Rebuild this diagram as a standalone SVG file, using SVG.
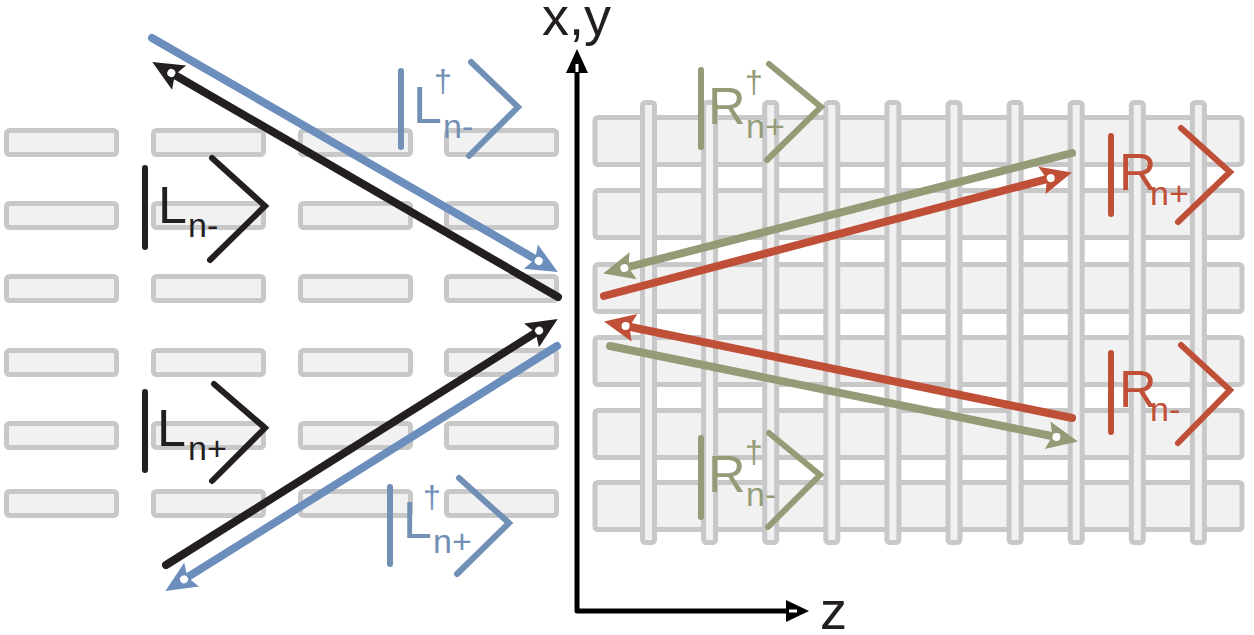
<svg xmlns="http://www.w3.org/2000/svg" width="1254" height="635" viewBox="0 0 1254 635">
<defs>
<style>
.brick{fill:#f1f1f1;stroke:#c8c8c9;stroke-width:5}
.bar{fill:#f1f1f1;stroke:#c8c8c9;stroke-width:5}
.ln{fill:none;stroke-width:8;stroke-linecap:round}
.ket{fill:none;stroke-width:6;stroke-linecap:round;stroke-linejoin:miter}
text{stroke:none;font-family:"Liberation Sans",Arial,sans-serif}
.big{font-size:52px}
.sub{font-size:34px}
.dag{font-size:32px}
.ax{font-size:54px;fill:#231f20}
.blue{stroke:#6b8ebd}
.black{stroke:#231f20}
.red{stroke:#c04f38}
.green{stroke:#939c77}
</style>
<marker id="mBlue" markerUnits="userSpaceOnUse" orient="auto" refX="0" refY="0" markerWidth="40" markerHeight="30" overflow="visible">
<path d="M22,0 L-9,-14 L-4,0 L-9,14 Z" fill="#6b8ebd"/><circle r="4" fill="#fff"/>
</marker>
<marker id="mBlack" markerUnits="userSpaceOnUse" orient="auto" refX="0" refY="0" markerWidth="40" markerHeight="30" overflow="visible">
<path d="M22,0 L-9,-14 L-4,0 L-9,14 Z" fill="#231f20"/><circle r="4" fill="#fff"/>
</marker>
<marker id="mRed" markerUnits="userSpaceOnUse" orient="auto" refX="0" refY="0" markerWidth="40" markerHeight="30" overflow="visible">
<path d="M22,0 L-9,-14 L-4,0 L-9,14 Z" fill="#c04f38"/><circle r="4" fill="#fff"/>
</marker>
<marker id="mGreen" markerUnits="userSpaceOnUse" orient="auto" refX="0" refY="0" markerWidth="40" markerHeight="30" overflow="visible">
<path d="M22,0 L-9,-14 L-4,0 L-9,14 Z" fill="#939c77"/><circle r="4" fill="#fff"/>
</marker>
</defs>
<rect width="1254" height="635" fill="#fff"/>

<g id="left-bricks">
<rect class="brick" x="6.5" y="130.5" width="110" height="24" rx="3"/>
<rect class="brick" x="153.5" y="130.5" width="110" height="24" rx="3"/>
<rect class="brick" x="300.5" y="130.5" width="110" height="24" rx="3"/>
<rect class="brick" x="446.5" y="130.5" width="110" height="24" rx="3"/>
<rect class="brick" x="6.5" y="203.5" width="110" height="24" rx="3"/>
<rect class="brick" x="153.5" y="203.5" width="110" height="24" rx="3"/>
<rect class="brick" x="300.5" y="203.5" width="110" height="24" rx="3"/>
<rect class="brick" x="446.5" y="203.5" width="110" height="24" rx="3"/>
<rect class="brick" x="6.5" y="276.5" width="110" height="24" rx="3"/>
<rect class="brick" x="153.5" y="276.5" width="110" height="24" rx="3"/>
<rect class="brick" x="300.5" y="276.5" width="110" height="24" rx="3"/>
<rect class="brick" x="446.5" y="276.5" width="110" height="24" rx="3"/>
<rect class="brick" x="6.5" y="350.5" width="110" height="24" rx="3"/>
<rect class="brick" x="153.5" y="350.5" width="110" height="24" rx="3"/>
<rect class="brick" x="300.5" y="350.5" width="110" height="24" rx="3"/>
<rect class="brick" x="446.5" y="350.5" width="110" height="24" rx="3"/>
<rect class="brick" x="6.5" y="423.5" width="110" height="24" rx="3"/>
<rect class="brick" x="153.5" y="423.5" width="110" height="24" rx="3"/>
<rect class="brick" x="300.5" y="423.5" width="110" height="24" rx="3"/>
<rect class="brick" x="446.5" y="423.5" width="110" height="24" rx="3"/>
<rect class="brick" x="6.5" y="491.5" width="110" height="24" rx="3"/>
<rect class="brick" x="153.5" y="491.5" width="110" height="24" rx="3"/>
<rect class="brick" x="300.5" y="491.5" width="110" height="24" rx="3"/>
<rect class="brick" x="446.5" y="491.5" width="110" height="24" rx="3"/>
</g>

<g id="right-grid">
<rect class="bar" x="595" y="117.5" width="647" height="47" rx="3"/>
<rect class="bar" x="595" y="190.5" width="647" height="47" rx="3"/>
<rect class="bar" x="595" y="264.5" width="647" height="47" rx="3"/>
<rect class="bar" x="595" y="337.5" width="647" height="47" rx="3"/>
<rect class="bar" x="595" y="410.5" width="647" height="47" rx="3"/>
<rect class="bar" x="595" y="482.5" width="647" height="47" rx="3"/>
<rect class="bar" x="642.5" y="102.5" width="12" height="440" rx="3"/>
<rect class="bar" x="703.6" y="102.5" width="12" height="440" rx="3"/>
<rect class="bar" x="764.7" y="102.5" width="12" height="440" rx="3"/>
<rect class="bar" x="825.8" y="102.5" width="12" height="440" rx="3"/>
<rect class="bar" x="886.9" y="102.5" width="12" height="440" rx="3"/>
<rect class="bar" x="948" y="102.5" width="12" height="440" rx="3"/>
<rect class="bar" x="1009.1" y="102.5" width="12" height="440" rx="3"/>
<rect class="bar" x="1070.2" y="102.5" width="12" height="440" rx="3"/>
<rect class="bar" x="1131.3" y="102.5" width="12" height="440" rx="3"/>
<rect class="bar" x="1192.4" y="102.5" width="12" height="440" rx="3"/>
</g>

<g id="axes">
<path d="M577,70 L577,611 L790,611" fill="none" stroke="#000" stroke-width="5" stroke-linejoin="round"/>
<path d="M577,49 L588,73 L566,73 Z" fill="#000"/>
<rect x="575.5" y="64" width="3" height="8" fill="#fff"/>
<path d="M809,611 L786,600 L786,622 Z" fill="#000"/>
<rect x="789" y="609.5" width="8" height="3" fill="#fff"/>
<text class="ax" x="542" y="35">x,y</text>
<text class="ax" x="820" y="629">z</text>
</g>

<g id="connectors">
<path class="ln blue" d="M152,38 L538.7,261" marker-end="url(#mBlue)"/>
<path class="ln black" d="M558,297 L171.3,73" marker-end="url(#mBlack)"/>
<path class="ln black" d="M166,565 L539.1,330.6" marker-end="url(#mBlack)"/>
<path class="ln blue" d="M557,346 L184,579.4" marker-end="url(#mBlue)"/>
<path class="ln green" d="M1072,153 L624.4,268" marker-end="url(#mGreen)"/>
<path class="ln red" d="M604,296 L1050.7,178.1" marker-end="url(#mRed)"/>
<path class="ln red" d="M1072,418 L625.6,326" marker-end="url(#mRed)"/>
<path class="ln green" d="M610,346 L1056.4,437" marker-end="url(#mGreen)"/>
</g>

<g id="ket-L-n-minus" fill="#231f20">
<line class="ket black" x1="145" y1="168" x2="145" y2="247"/>
<polyline class="ket black" points="212,158 265,206 210,260"/>
<text class="big" x="158" y="223">L</text>
<text class="sub" x="188" y="237">n-</text>
</g>

<g id="ket-Ldag-n-minus" fill="#7290b6">
<line class="ket" stroke="#7290b6" x1="401" y1="71" x2="401" y2="147"/>
<polyline class="ket" stroke="#7290b6" points="471,62 518,107 469,156"/>
<text class="big" x="413" y="123">L</text>
<text class="dag" x="434" y="92">†</text>
<text class="sub" x="443" y="138">n-</text>
</g>

<g id="ket-L-n-plus" fill="#231f20">
<line class="ket black" x1="145" y1="392" x2="145" y2="470"/>
<polyline class="ket black" points="214,384 265,428 212,481"/>
<text class="big" x="157" y="446">L</text>
<text class="sub" x="188" y="460">n+</text>
</g>

<g id="ket-Ldag-n-plus" fill="#7290b6">
<line class="ket" stroke="#7290b6" x1="390" y1="487" x2="390" y2="564"/>
<polyline class="ket" stroke="#7290b6" points="459,478 509,523 457,574"/>
<text class="big" x="403" y="538">L</text>
<text class="dag" x="423" y="508">†</text>
<text class="sub" x="433" y="553">n+</text>
</g>

<g id="ket-Rdag-n-plus" fill="#939c77">
<line class="ket green" x1="701" y1="70" x2="701" y2="147"/>
<polyline class="ket green" points="769,64 821,107 767,160"/>
<text class="big" x="708" y="124">R</text>
<text class="dag" x="745" y="93">†</text>
<text class="sub" x="746" y="138">n+</text>
</g>

<g id="ket-R-n-plus" fill="#c04f38">
<line class="ket red" x1="1111" y1="136" x2="1111" y2="214"/>
<polyline class="ket red" points="1181,128 1230,172 1178,222"/>
<text class="big" x="1119" y="190">R</text>
<text class="sub" x="1150" y="205">n+</text>
</g>

<g id="ket-R-n-minus" fill="#c04f38">
<line class="ket red" x1="1111" y1="353" x2="1111" y2="432"/>
<polyline class="ket red" points="1181,345 1230,390 1178,443"/>
<text class="big" x="1119" y="407">R</text>
<text class="sub" x="1150" y="421">n-</text>
</g>

<g id="ket-Rdag-n-minus" fill="#939c77">
<line class="ket green" x1="701" y1="438" x2="701" y2="517"/>
<polyline class="ket green" points="769,433 820,475 768,527"/>
<text class="big" x="708" y="492">R</text>
<text class="dag" x="745" y="463">†</text>
<text class="sub" x="746" y="506">n-</text>
</g>
</svg>
